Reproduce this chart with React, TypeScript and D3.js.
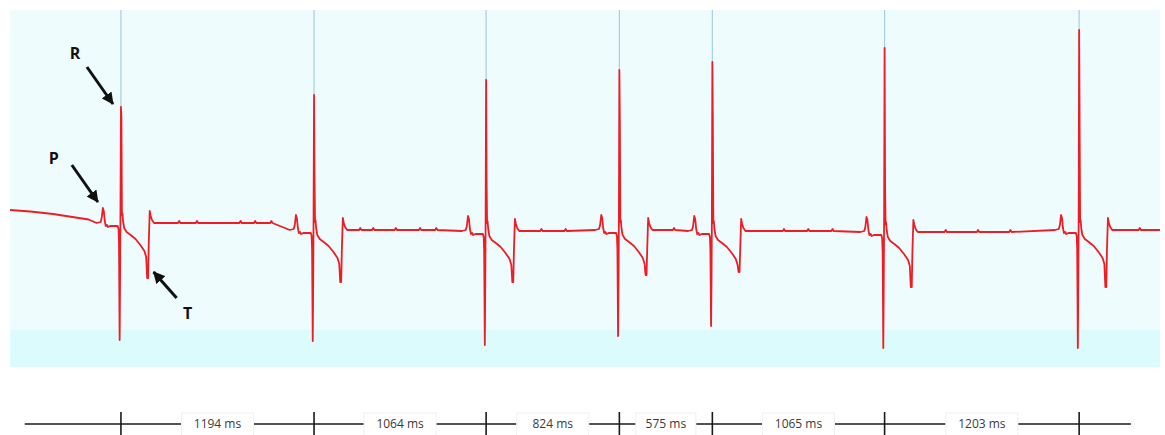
import React from "react";
import * as d3 from "d3";

// R–R intervals between consecutive beats (ms)
const rrIntervalsMs = [1194, 1064, 824, 575, 1065, 1203];

// Per-beat levels (mV)
const rPeak = [1.21, 1.33, 1.48, 1.58, 1.66, 1.8, 1.98];
const rShoulder = [1.1, 0.53, 0.48, 1.06, 1.06, 0.43, 1.01];
const sTrough = [-1.12, -1.13, -1.17, -1.08, -0.98, -1.2, -1.2];
const tTrough = [-0.5, -0.54, -0.54, -0.47, -0.44, -0.59, -0.59];
const isoLevel = [0.05, -0.02, -0.03, -0.02, -0.03, -0.04, -0.02];

// Drifting baseline before the first beat and the end of the record
const leadIn: [number, number][] = [
  [-686, 0.18],
  [-560, 0.165],
  [-420, 0.14],
  [-300, 0.11],
  [-200, 0.085],
];
const tailOut: [number, number][] = [[6425, -0.02]];

// Small baseline notches (ms)
const baselineBlips = [
  360, 470, 740, 830, 930, 1480, 1560, 1700, 1850, 1950, 2600, 2750, 3420,
  4100, 4250, 4400, 5100, 5300, 5500, 6300,
];

// Shape of one complex around its R wave: [ms from R, level]
// numbers are relative to the isoelectric line, names take the beat's own level
type Level = number | "R" | "R2" | "S" | "T";
const beatShape: [number, Level][] = [
  [-150, 0],
  [-126, 0.01],
  [-119, 0.05],
  [-112, 0.15],
  [-106, 0.12],
  [-100, 0.02],
  [-94, -0.03],
  [-86, -0.02],
  [-80, -0.04],
  [-66, -0.03],
  [-40, -0.03],
  [-20, -0.03],
  [-15, -0.06],
  [-12, -0.2],
  [-8, "S"],
  [-5, -0.45],
  [-3, 0.1],
  [0, "R"],
  [3, "R2"],
  [6, 0.08],
  [9, 0.1],
  [13, 0.02],
  [20, -0.05],
  [35, -0.09],
  [60, -0.12],
  [90, -0.16],
  [120, -0.22],
  [145, -0.28],
  [156, -0.34],
  [162, "T"],
  [168, "T"],
  [172, -0.2],
  [178, 0.12],
  [184, 0.07],
  [192, 0.03],
  [205, 0],
  [230, 0],
];

const rTimesMs = rrIntervalsMs.reduce<number[]>(
  (acc, d) => [...acc, acc[acc.length - 1] + d],
  [0]
);

const W = 1165;
const H = 435;

const xScale = d3.scaleLinear().domain([-686, 6425]).range([10, 1160]);
const yScale = d3.scaleLinear().domain([-1.39, 2.18]).range([367, 10]);

function buildTrace(): [number, number][] {
  const pts: [number, number][] = [...leadIn];
  rTimesMs.forEach((t0, i) => {
    beatShape.forEach(([dt, lv]) => {
      let v: number;
      if (lv === "R") v = rPeak[i];
      else if (lv === "R2") v = rShoulder[i];
      else if (lv === "S") v = sTrough[i];
      else if (lv === "T") v = tTrough[i];
      else v = isoLevel[i] + lv;
      pts.push([t0 + dt, v]);
    });
  });
  baselineBlips.forEach((t) => {
    let k = 0;
    while (k + 1 < rTimesMs.length && rTimesMs[k + 1] < t) k++;
    const base = isoLevel[k];
    pts.push([t - 7, base], [t, base + 0.02], [t + 7, base]);
  });
  pts.push(...tailOut);
  return pts.sort((a, b) => a[0] - b[0]);
}

const trace = buildTrace();

const lineGen = d3
  .line<[number, number]>()
  .x((d) => xScale(d[0]))
  .y((d) => yScale(d[1]));

// interval axis below the trace
const axisY = 424;
const axisStartMs = -595;
const axisEndMs = 6245;

export default function App() {
  const ticks = rTimesMs.map((t) => xScale(t));
  const boxes = rrIntervalsMs.map((ms, i) => {
    const a = ticks[i];
    const b = ticks[i + 1];
    const w = Math.min(72, b - a - 33);
    const cx = (a + b) / 2;
    return { ms, cx, x0: cx - w / 2, x1: cx + w / 2 };
  });
  const segs: [number, number][] = [];
  let cur = xScale(axisStartMs);
  boxes.forEach((bx) => {
    segs.push([cur, bx.x0]);
    cur = bx.x1;
  });
  segs.push([cur, xScale(axisEndMs)]);

  // annotation anchors
  const rPt = [xScale(0), yScale(rPeak[0])];
  const pPt = [xScale(-112), yScale(isoLevel[0] + 0.15)];
  const tPt = [xScale(165), yScale(tTrough[0])];

  const notes = [
    { label: "R", p: rPt, tip: [-8, -3], tail: [-34, -40], txt: [-46, -54] },
    { label: "P", p: pPt, tip: [-5, -6], tail: [-31, -43], txt: [-49, -50] },
    { label: "T", p: tPt, tip: [6, -6], tail: [29, 20], txt: [40, 35] },
  ];

  return (
    <svg
      width={W}
      height={H}
      viewBox={`0 0 ${W} ${H}`}
      style={{ position: "absolute", left: 0, top: 0, display: "block", background: "#ffffff" }}
    >
      <defs>
        <marker
          id="head"
          markerUnits="userSpaceOnUse"
          markerWidth={13}
          markerHeight={12}
          refX={11}
          refY={6}
          orient="auto"
        >
          <path d="M0,0 L12,6 L0,12 z" fill="#111" />
        </marker>
      </defs>

      <rect x={10} y={10} width={1150} height={357} fill="#effcfd" />
      <rect x={10} y={330} width={1150} height={37} fill="#dcfbfd" />

      {rTimesMs.map((t, i) => (
        <line
          key={`m${i}`}
          x1={xScale(t)}
          x2={xScale(t)}
          y1={10}
          y2={yScale(rPeak[i])}
          stroke="#a9cfdd"
          strokeWidth={1.2}
        />
      ))}

      <path
        d={lineGen(trace) ?? ""}
        fill="none"
        stroke="#ee1c25"
        strokeWidth={1.8}
        strokeLinejoin="round"
      />

      {notes.map((n) => (
        <g key={n.label}>
          <line
            x1={n.p[0] + n.tail[0]}
            y1={n.p[1] + n.tail[1]}
            x2={n.p[0] + n.tip[0]}
            y2={n.p[1] + n.tip[1]}
            stroke="#111"
            strokeWidth={3}
            markerEnd="url(#head)"
          />
          <text
            x={n.p[0] + n.txt[0]}
            y={n.p[1] + n.txt[1] + 6}
            textAnchor="middle"
            fontFamily="'Open Sans', 'Liberation Sans', sans-serif"
            fontWeight={700}
            fontSize={16}
            fill="#111"
          >
            {n.label}
          </text>
        </g>
      ))}

      {segs.map(([a, b], i) => (
        <line key={`s${i}`} x1={a} x2={b} y1={axisY} y2={axisY} stroke="#1a1a1a" strokeWidth={1.6} />
      ))}
      {ticks.map((x, i) => (
        <line key={`t${i}`} x1={x} x2={x} y1={412} y2={437} stroke="#1a1a1a" strokeWidth={1.6} />
      ))}
      {boxes.map((bx, i) => (
        <g key={`b${i}`}>
          <rect
            x={bx.x0}
            y={413}
            width={bx.x1 - bx.x0}
            height={24}
            fill="#ffffff"
            stroke="#f0f0f0"
            strokeWidth={1}
          />
          <text
            x={bx.cx}
            y={axisY + 4}
            textAnchor="middle"
            fontFamily="'Liberation Sans Narrow', 'Open Sans', sans-serif"
            fontSize={12}
            fill="#3a3a3a"
          >
            {`${bx.ms} ms`}
          </text>
        </g>
      ))}
    </svg>
  );
}
